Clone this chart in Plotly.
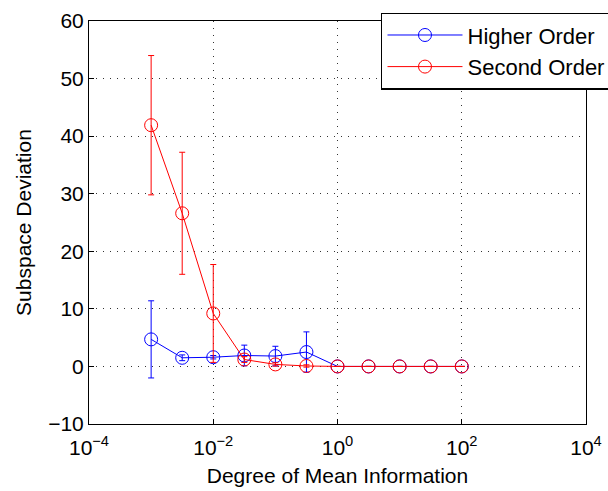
import plotly.graph_objects as go

x_vals = [1e-3, 10**-2.5, 1e-2, 10**-1.5, 1e-1, 10**-0.5, 1, 10**0.5, 10, 10**1.5, 100]

higher_mean = [4.7, 1.5, 1.6, 1.9, 1.8, 2.5, 0, 0, 0, 0, 0]
higher_err = [6.7, 0.5, 0.3, 1.8, 1.7, 3.5, 0, 0, 0, 0, 0]

second_mean = [41.9, 26.6, 9.2, 1.2, 0.35, 0.08, 0, 0, 0, 0, 0]
second_err = [12.1, 10.6, 8.5, 0.5, 0.3, 0.2, 0, 0, 0, 0, 0]

x_tickvals = [1e-4, 1e-2, 1, 1e2, 1e4]
x_ticktext = ["10<sup>\u22124</sup>", "10<sup>\u22122</sup>", "10<sup>0</sup>", "10<sup>2</sup>", "10<sup>4</sup>"]
y_tickvals = [-10, 0, 10, 20, 30, 40, 50, 60]
y_ticktext = ["\u221210", "0", "10", "20", "30", "40", "50", "60"]

FONT = "Liberation Sans, Arial, Helvetica, sans-serif"

fig = go.Figure()
for name, mean, err, color in [
    ("Higher Order", higher_mean, higher_err, "rgb(0,0,255)"),
    ("Second Order", second_mean, second_err, "rgb(255,0,0)"),
]:
    fig.add_trace(go.Scatter(
        x=x_vals, y=mean, name=name, mode="lines+markers",
        line=dict(color=color, width=1),
        marker=dict(symbol="circle-open", size=13, color=color, line=dict(width=1, color=color)),
        error_y=dict(type="data", array=err, visible=True, color=color, thickness=1, width=3),
    ))

axis_common = dict(
    showline=True, linecolor="black", linewidth=1, mirror=True,
    ticks="inside", ticklen=5, tickcolor="black",
    showgrid=True, gridcolor="#333333", gridwidth=1, griddash="1px,6px",
    zeroline=False,
    tickfont=dict(family=FONT, size=21, color="black"),
)

fig.update_xaxes(
    type="log", range=[-4, 4], tickvals=x_tickvals, ticktext=x_ticktext,
    ticklabelstandoff=5,
    title=dict(text="Degree of Mean Information", font=dict(family=FONT, size=21, color="black"), standoff=10),
    **axis_common,
)
fig.update_yaxes(
    range=[-10, 60], tickvals=y_tickvals, ticktext=y_ticktext,
    title=dict(text="Subspace Deviation", font=dict(family=FONT, size=21, color="black"), standoff=10),
    **axis_common,
)

fig.update_layout(
    width=608, height=491,
    margin=dict(l=89, r=22, t=21, b=67, autoexpand=False),
    plot_bgcolor="white", paper_bgcolor="white",
    font=dict(family=FONT, size=21, color="black"),
    legend=dict(
        x=0.5875, y=1.0206, xanchor="left", yanchor="top",
        bgcolor="white", bordercolor="black", borderwidth=1.5,
        font=dict(family=FONT, size=22, color="black"),
        itemwidth=75, tracegroupgap=0,
    ),
    showlegend=True,
)

fig.write_html("out.html")
